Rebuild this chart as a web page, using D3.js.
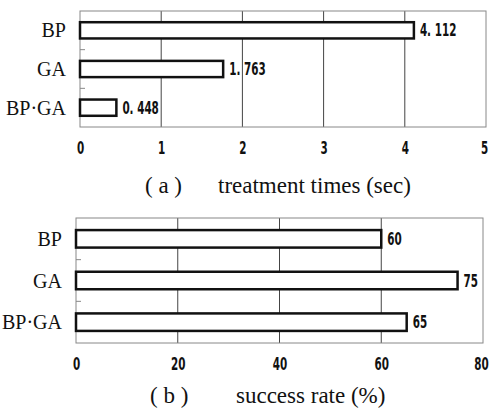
<!DOCTYPE html>
<html>
<head>
<meta charset="utf-8">
<script src="https://cdn.jsdelivr.net/npm/d3@7"></script>
<style>
  body { margin: 0; background: #fff; }
  svg { display: block; }
  .cat { font-family: "Liberation Serif", "DejaVu Serif", serif; font-size: 20px; fill: #111; }
  .num { font-family: "DejaVu Sans", sans-serif; font-stretch: condensed; font-weight: bold; font-size: 17px; fill: #111; }
  .title { font-family: "Liberation Serif", "DejaVu Serif", serif; font-size: 23px; fill: #111; }
</style>
</head>
<body>
<div id="chart"></div>
<script>
const categories = ["BP", "GA", "BP·GA"];
const timeValues = [4.112, 1.763, 0.448];
const timeTicks = [0, 1, 2, 3, 4, 5];
const rateValues = [60, 75, 65];
const rateTicks = [0, 20, 40, 60, 80];

const squeeze = 0.68;

const svg = d3.select("#chart")
  .append("svg")
  .attr("width", 489)
  .attr("height", 409);

function panel(opts) {
  const x = d3.scaleLinear()
    .domain([opts.ticks[0], opts.ticks[opts.ticks.length - 1]])
    .range([opts.left, opts.right]);
  const y = d3.scaleBand()
    .domain(categories)
    .range([opts.top, opts.bottom])
    .paddingInner(0.58)
    .paddingOuter(0.29);

  const g = svg.append("g");

  // gridlines
  g.selectAll(".grid")
    .data(opts.ticks.slice(1, -1))
    .enter()
    .append("line")
    .attr("x1", (d) => x(d))
    .attr("x2", (d) => x(d))
    .attr("y1", opts.top)
    .attr("y2", opts.bottom)
    .attr("stroke", "#444")
    .attr("stroke-width", 1);

  // plot frame
  g.append("rect")
    .attr("x", opts.left)
    .attr("y", opts.top)
    .attr("width", opts.right - opts.left)
    .attr("height", opts.bottom - opts.top)
    .attr("fill", "none")
    .attr("stroke", "#888")
    .attr("stroke-width", 1);

  // small inner ticks between categories
  const gap = (y.step() - y.bandwidth()) / 2;
  g.selectAll(".ctick")
    .data(categories.slice(1))
    .enter()
    .append("line")
    .attr("x1", opts.left)
    .attr("x2", opts.left + 5)
    .attr("y1", (d) => y(d) - gap)
    .attr("y2", (d) => y(d) - gap)
    .attr("stroke", "#888");

  // bars
  g.selectAll(".bar")
    .data(opts.values)
    .enter()
    .append("rect")
    .attr("x", x(0))
    .attr("y", (d, i) => y(categories[i]))
    .attr("width", (d) => x(d) - x(0))
    .attr("height", y.bandwidth())
    .attr("fill", "#fff")
    .attr("stroke", "#111")
    .attr("stroke-width", 2.5);

  // value labels
  g.selectAll(".val")
    .data(opts.values)
    .enter()
    .append("text")
    .attr("class", "num")
    .attr("transform", (d, i) =>
      `translate(${x(d) + 6}, ${y(categories[i]) + y.bandwidth() / 2 + 6}) scale(${squeeze}, 1)`)
    .text(opts.fmt);

  // category labels
  g.selectAll(".cat")
    .data(categories)
    .enter()
    .append("text")
    .attr("class", "cat")
    .attr("text-anchor", "end")
    .attr("x", opts.left - 14)
    .attr("y", (d) => y(d) + y.bandwidth() / 2 + 7)
    .text((d) => d);

  // axis tick labels
  const axis = g.append("g")
    .attr("transform", `translate(0, ${opts.bottom + 27})`)
    .call(d3.axisBottom(x).tickValues(opts.ticks).tickFormat(d3.format("d")).tickSize(0).tickPadding(0));
  axis.select(".domain").remove();
  axis.attr("font-size", null).attr("font-family", null);
  axis.selectAll("text")
    .attr("class", "num")
    .attr("fill", "#111")
    .attr("y", 0)
    .attr("dy", 0)
    .style("font-size", "17px")
    .attr("transform", (d, i) =>
      `translate(${i === opts.ticks.length - 1 ? -2 : 0}, 0) scale(${squeeze}, 1)`);

  // title
  g.append("text")
    .attr("class", "title")
    .attr("x", opts.tagX)
    .attr("y", opts.titleY)
    .text(opts.tag);
  g.append("text")
    .attr("class", "title")
    .attr("x", opts.titleX)
    .attr("y", opts.titleY)
    .text(opts.title);
}

panel({
  values: timeValues,
  ticks: timeTicks,
  left: 80, right: 486, top: 11, bottom: 127,
  fmt: (d) => d3.format(".3f")(d).replace(".", ". "),
  tag: "( a )", tagX: 145,
  title: "treatment times (sec)", titleX: 218, titleY: 193
});

panel({
  values: rateValues,
  ticks: rateTicks,
  left: 76, right: 483, top: 218, bottom: 343,
  fmt: (d) => d3.format("d")(d),
  tag: "( b )", tagX: 150,
  title: "success rate (%)", titleX: 236, titleY: 403
});
</script>
</body>
</html>
